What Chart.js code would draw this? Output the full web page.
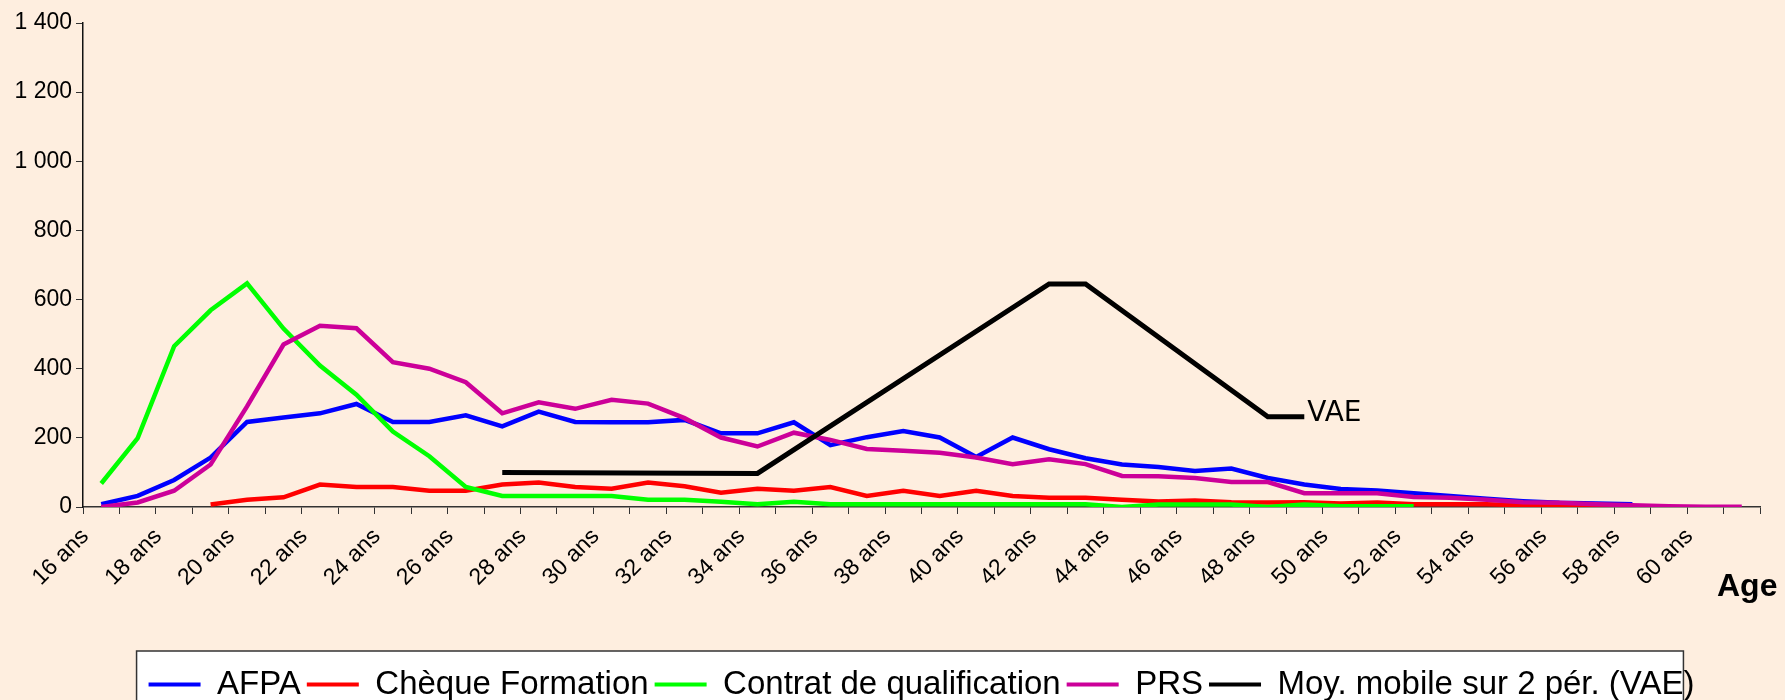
<!DOCTYPE html>
<html lang="fr">
<head>
<meta charset="utf-8">
<title>Répartition par âge</title>
<script src="https://cdn.jsdelivr.net/npm/chart.js@4.4.1/dist/chart.umd.min.js"></script>
<style>
  html, body { margin: 0; padding: 0; background: #feeedf; }
  #ageChart { display: block; }
</style>
</head>
<body>
<canvas id="ageChart" width="1785" height="700"></canvas>
<script>
const ages = [
  '16 ans', '17 ans', '18 ans', '19 ans', '20 ans', '21 ans', '22 ans', '23 ans',
  '24 ans', '25 ans', '26 ans', '27 ans', '28 ans', '29 ans', '30 ans', '31 ans',
  '32 ans', '33 ans', '34 ans', '35 ans', '36 ans', '37 ans', '38 ans', '39 ans',
  '40 ans', '41 ans', '42 ans', '43 ans', '44 ans', '45 ans', '46 ans', '47 ans',
  '48 ans', '49 ans', '50 ans', '51 ans', '52 ans', '53 ans', '54 ans', '55 ans',
  '56 ans', '57 ans', '58 ans', '59 ans', '60 ans', '61 ans'
];

const afpa = [
  8, 32, 78, 143, 246, 259, 271, 298, 246, 246, 265, 233, 276, 246, 245, 245,
  252, 213, 213, 245, 179, 202, 220, 201, 145, 201, 167, 141, 123, 116, 104, 111,
  84, 65, 52, 48, 40, 32, 24, 17, 12, 10, 8, null, null, null
];

const chequeFormation = [
  null, null, null, 7, 21, 28, 65, 58, 58, 47, 47, 65, 71, 58, 53, 71,
  60, 41, 53, 47, 58, 32, 47, 32, 47, 32, 27, 27, 21, 16, 19, 14,
  13, 14, 10, 13, 8, 8, 8, 5, 2, 2, 2, 1, null, null
];

const contratQualif = [
  68, 199, 465, 569, 647, 516, 409, 325, 218, 147, 58, 32, 32, 32, 32, 21,
  21, 15, 8, 15, 8, 8, 8, 8, 8, 8, 8, 8, 0, 7, 7, 7,
  0, 7, 2, 2, 2, null, null, null, null, null, null, null, null, null
];

const prs = [
  0, 13, 47, 123, 291, 470, 524, 517, 419, 400, 361, 271, 303, 284, 310, 299,
  257, 201, 175, 215, 194, 168, 163, 157, 143, 124, 138, 124, 90, 89, 84, 72,
  72, 40, 40, 40, 29, 27, 21, 14, 12, 8, 5, 2, 1, 1
];

// moyenne mobile VAE : seuls les points présents, reliés entre eux
const vaeMoy = [
  null, null, null, null, null, null, null, null, null, null, null, 100, null, null, null, null,
  null, null, 97, null, null, null, null, null, null, null, 645, 645, null, null, null, null,
  261, 261, null, null, null, null, null, null, null, null, null, null, null, null
];

const yTicks = [0, 200, 400, 600, 800, 1000, 1200, 1400];

const FONT = '"Liberation Sans", Arial, sans-serif';

function frNumber(v) {
  return String(v).replace(/\B(?=(\d{3})+(?!\d))/g, ' ');
}

function serie(label, data, color, order, extra) {
  return Object.assign({
    label: label,
    data: data,
    borderColor: color,
    backgroundColor: color,
    borderWidth: 4.5,
    pointRadius: 0,
    tension: 0,
    fill: false,
    order: order
  }, extra || {});
}

// cadre blanc derrière la légende
const legendFrame = {
  id: 'legendFrame',
  beforeDraw(chart) {
    const boxes = chart.legend && chart.legend.legendHitBoxes;
    if (!boxes || !boxes.length) return;
    const first = boxes[0];
    const last = boxes[boxes.length - 1];
    const left = first.left - 12;
    const right = last.left + last.width - 11;
    const top = first.top - 17;
    const ctx = chart.ctx;
    ctx.save();
    ctx.fillStyle = '#ffffff';
    ctx.fillRect(left, top, right - left, chart.height - top + 5);
    ctx.strokeStyle = '#333333';
    ctx.lineWidth = 1.5;
    ctx.strokeRect(left, top, right - left, chart.height - top + 5);
    ctx.restore();
  }
};

// étiquette "VAE" en bout de courbe et titre "Age"
const textMarks = {
  id: 'textMarks',
  afterDatasetsDraw(chart) {
    const ctx = chart.ctx;
    const meta = chart.getDatasetMeta(4);
    let pt = null;
    vaeMoy.forEach((v, i) => { if (v !== null) pt = meta.data[i]; });
    ctx.save();
    ctx.fillStyle = '#000';
    if (pt) {
      ctx.font = '28px "DejaVu Sans", sans-serif';
      ctx.textAlign = 'left';
      ctx.textBaseline = 'alphabetic';
      ctx.fillText('VAE', pt.x + 3, pt.y + 4);
    }
    const xs = chart.scales.x;
    ctx.font = 'bold 32px ' + FONT;
    ctx.textAlign = 'left';
    ctx.textBaseline = 'middle';
    ctx.fillText('Age', xs.right - 43, xs.top + 80);
    ctx.restore();
  }
};

const chart = new Chart(document.getElementById('ageChart'), {
  type: 'line',
  data: {
    labels: ages,
    datasets: [
      serie('AFPA', afpa, '#0000ff', 5),
      serie('Chèque Formation', chequeFormation, '#ff0000', 4),
      serie('Contrat de qualification', contratQualif, '#00ff00', 3),
      serie('PRS', prs, '#cc0099', 2),
      serie('Moy. mobile sur 2 pér. (VAE)', vaeMoy, '#000000', 1, { spanGaps: true, borderWidth: 5 })
    ]
  },
  options: {
    responsive: false,
    animation: false,
    devicePixelRatio: 1,
    events: [],
    layout: { padding: { top: 23, right: 25, left: 0, bottom: -11 } },
    plugins: {
      tooltip: { enabled: false },
      title: { display: false },
      legend: {
        position: 'bottom',
        fullSize: false,
        labels: {
          font: { family: FONT, size: 33 },
          color: '#000',
          boxWidth: 52,
          boxHeight: 4,
          padding: 6,
          sort: (a, b) => a.datasetIndex - b.datasetIndex,
          generateLabels(chart) {
            return Chart.defaults.plugins.legend.labels.generateLabels(chart).map(item => {
              item.lineWidth = 0;
              item.fillStyle = item.strokeStyle;
              return item;
            });
          }
        }
      }
    },
    scales: {
      x: {
        type: 'category',
        offset: true,
        grid: { offset: true, drawOnChartArea: false, drawTicks: true, tickLength: 7, color: '#333' },
        border: { color: '#333', width: 1.5 },
        ticks: {
          autoSkip: false,
          minRotation: 45,
          maxRotation: 45,
          labelOffset: -16,
          padding: 9,
          color: '#000',
          font: { family: FONT, size: 23 },
          callback: (v, i) => (i % 2 === 0 ? ages[i] : '')
        },
        afterFit(scale) { scale.height = 155; }
      },
      y: {
        min: yTicks[0],
        max: yTicks[yTicks.length - 1],
        afterBuildTicks(scale) { scale.ticks = yTicks.map(v => ({ value: v })); },
        grid: { drawOnChartArea: false, drawTicks: true, tickLength: 7, color: '#333' },
        border: { color: '#111', width: 1.5 },
        ticks: {
          color: '#000',
          padding: 4,
          font: { family: FONT, size: 23 },
          callback: v => frNumber(v)
        },
        afterFit(scale) { scale.width = 83; }
      }
    }
  },
  plugins: [legendFrame, textMarks]
});
</script>
</body>
</html>
